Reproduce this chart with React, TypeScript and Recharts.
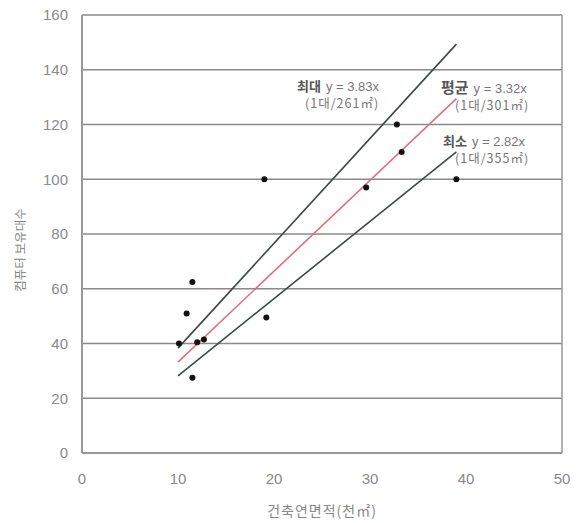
import React from "react";
import {
  ComposedChart,
  Scatter,
  XAxis,
  YAxis,
  CartesianGrid,
  ReferenceLine,
  Customized,
} from "recharts";

// 건축연면적(천㎡) vs 컴퓨터 보유대수 observations
const areaValues = [10.1, 10.9, 11.5, 11.5, 12.0, 12.7, 19.0, 19.2, 29.6, 32.8, 33.3, 39.0];
const countValues = [40, 51, 62.5, 27.5, 40.5, 41.5, 100, 49.5, 97, 120, 110, 100];

// Fitted lines y = slope * x, drawn over the observed area range
const fitNames = ["최대", "평균", "최소"];
const fitSlopes = [3.83, 3.32, 2.82];
const fitRatios = ["(1대/261㎡)", "(1대/301㎡)", "(1대/355㎡)"];
const fitRange = [10, 39];

const xTicks = [0, 10, 20, 30, 40, 50];
const yTicks = [0, 20, 40, 60, 80, 100, 120, 140, 160];

const points = areaValues.map((x, i) => ({ x, y: countValues[i] }));
const fitLines = fitSlopes.map((s) => fitRange.map((x) => ({ x, y: +(s * x).toFixed(2) })));

const fitColors = ["#3c4a42", "#e0707c", "#3c4a42"];

const textFont = "'Liberation Sans', Arial, 'Noto Sans CJK KR', sans-serif";
const krFont = "'Noto Sans CJK KR', 'Liberation Sans', sans-serif";

const Annotations = () => {
  const blocks = [
    { x: 297, y: 91, size: 13, rx: 305 },
    { x: 441, y: 93, size: 15, rx: 455 },
    { x: 443, y: 146, size: 13, rx: 455 },
  ];
  return (
    <g>
      {blocks.map((b, i) => (
        <g key={i}>
          <text x={b.x} y={b.y} fill="#777" fontFamily={textFont} fontSize={13}>
            <tspan fontFamily={krFont} fontSize={b.size} fontWeight="bold" fill="#555">
              {fitNames[i]}
            </tspan>
            <tspan dx={5}>{`y = ${fitSlopes[i]}x`}</tspan>
          </text>
          <text
            x={b.rx}
            y={b.y + 17}
            fontFamily={krFont}
            fontSize={12.5}
            letterSpacing={1}
            fill="#777"
          >
            {fitRatios[i]}
          </text>
        </g>
      ))}
    </g>
  );
};

const YTitle = () => (
  <text
    x={25}
    y={250}
    transform="rotate(-90 25 250)"
    textAnchor="middle"
    fontFamily={krFont}
    fontSize={12.5}
    fill="#888"
  >
    컴퓨터 보유대수
  </text>
);

const Dot = (props: any) => <circle cx={props.cx} cy={props.cy} r={3} fill="#111" />;

export default function App() {
  return (
    <div style={{ position: "absolute", left: 0, top: 0, width: 583, height: 523, background: "#fff" }}>
      <ComposedChart
        width={583}
        height={523}
        margin={{ top: 15, right: 21, bottom: 0, left: 0 }}
      >
        <CartesianGrid horizontal vertical={false} stroke="#8a8a8a" strokeWidth={1.6} />
        <XAxis
          type="number"
          dataKey="x"
          domain={[0, 50]}
          ticks={xTicks}
          height={70}
          axisLine={{ stroke: "#999", strokeWidth: 2 }}
          tickLine={false}
          tick={{ fill: "#8a8a8a", fontSize: 15, fontFamily: textFont, dy: 12 }}
          label={{
            value: "건축연면적(천㎡)",
            position: "insideBottom",
            offset: 7,
            fill: "#888",
            fontSize: 14,
            fontFamily: krFont,
            letterSpacing: 1,
          }}
        />
        <YAxis
          type="number"
          dataKey="y"
          domain={[0, 160]}
          ticks={yTicks}
          width={82}
          axisLine={{ stroke: "#999", strokeWidth: 2 }}
          tickLine={false}
          tick={{ fill: "#8a8a8a", fontSize: 15, fontFamily: textFont, dx: -6 }}
        />
        <ReferenceLine x={50} stroke="#999" strokeWidth={1.5} />
        {fitLines.map((d, i) => (
          <Scatter
            key={fitNames[i]}
            data={d}
            line={{ stroke: fitColors[i], strokeWidth: 1.6 }}
            shape={() => <g />}
            isAnimationActive={false}
          />
        ))}
        <Scatter data={points} shape={Dot} isAnimationActive={false} />
        <Customized component={Annotations} />
        <Customized component={YTitle} />
      </ComposedChart>
    </div>
  );
}
